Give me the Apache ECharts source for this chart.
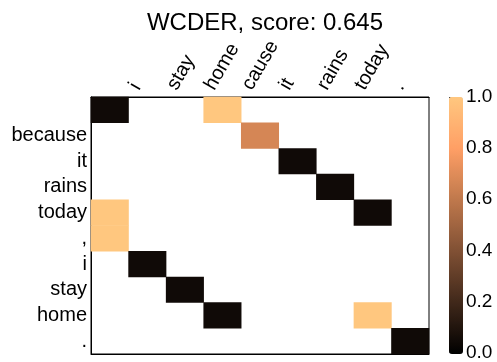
<!DOCTYPE html>
<html>
<head>
<meta charset="utf-8">
<script src="https://cdn.jsdelivr.net/npm/echarts@6/dist/echarts.min.js"></script>
<style>
  html, body { margin: 0; padding: 0; background: #fff; }
  #main { width: 497px; height: 362px; }
</style>
</head>
<body>
<div id="main"></div>
<script>
// tokens along the top (columns) and down the side (rows)
var xLabels = ['', 'i', 'stay', 'home', 'cause', 'it', 'rains', 'today', '.'];
var yLabels = ['', 'because', 'it', 'rains', 'today', ',', 'i', 'stay', 'home', '.'];
// [column, row, weight]
var cells = [
    [0, 0, 0.05], [3, 0, 1.0],
    [4, 1, 0.67],
    [5, 2, 0.05],
    [6, 3, 0.05],
    [0, 4, 1.0], [7, 4, 0.05],
    [0, 5, 1.0],
    [1, 6, 0.05],
    [2, 7, 0.05],
    [3, 8, 0.05], [7, 8, 1.0],
    [8, 9, 0.05]
];
var barTicks = [0, 0.2, 0.4, 0.6, 0.8, 1.0];
// copper colormap sampled every 0.2
var copper = ['#000000', '#40281a', '#805034', '#bf784c', '#ff9f65', '#ffc77f'];

var font = 'Liberation Sans, Arial, sans-serif';
var myChart = echarts.init(document.getElementById('main'));
var option = {
    animation: false,
    title: {
        text: 'WCDER, score: 0.645',
        left: 260,
        top: 6,
        textAlign: 'center',
        textStyle: { fontFamily: font, fontSize: 24, fontWeight: 'normal', color: '#000' }
    },
    grid: [
        { left: 91, right: 68, top: 97, bottom: 8, show: true, borderColor: '#000', borderWidth: 1, backgroundColor: '#fff' },
        { left: 449, width: 14, top: 97, bottom: 8 }
    ],
    xAxis: [{
        type: 'category',
        gridIndex: 0,
        position: 'top',
        data: xLabels,
        axisLine: { lineStyle: { color: '#000' } },
        axisTick: { alignWithLabel: true, length: 4, lineStyle: { color: '#333' } },
        axisLabel: {
            // bottom-aligned tall line box pushes the rotated text left of its tick
            rotate: -60, interval: 0, margin: 1, verticalAlign: 'bottom', lineHeight: 30,
            color: '#000', fontFamily: font, fontSize: 20
        },
        splitLine: { show: false }
    }, {
        type: 'category',
        gridIndex: 0,
        position: 'bottom',
        data: xLabels,
        axisLine: { lineStyle: { color: '#000' } },
        axisTick: { alignWithLabel: true, length: 4, lineStyle: { color: '#333' } },
        axisLabel: { show: false }
    }, {
        type: 'value',
        gridIndex: 1,
        show: false
    }],
    yAxis: [{
        type: 'category',
        gridIndex: 0,
        inverse: true,
        data: yLabels,
        axisLine: { lineStyle: { color: '#000' } },
        axisTick: { alignWithLabel: true, length: 4, lineStyle: { color: '#333' } },
        axisLabel: { interval: 0, margin: 4, color: '#000', fontFamily: font, fontSize: 20 }
    }, {
        type: 'value',
        gridIndex: 1,
        position: 'right',
        min: 0,
        max: 1,
        interval: 0.2,
        axisLine: { show: false },
        axisTick: { show: true, length: 4, lineStyle: { color: '#333' } },
        axisLabel: {
            margin: 3, color: '#000', fontFamily: font, fontSize: 19,
            formatter: function (v) { return v.toFixed(1); }
        },
        splitLine: { show: false }
    }],
    visualMap: {
        type: 'continuous',
        min: 0,
        max: 1,
        seriesIndex: 0,
        calculable: false,
        orient: 'vertical',
        left: 449,
        top: 97,
        padding: 0,
        itemWidth: 14,
        itemHeight: 257,
        text: null,
        showLabel: false,
        inRange: { color: copper }
    },
    series: [{
        type: 'heatmap',
        xAxisIndex: 0,
        yAxisIndex: 0,
        data: cells
    }]
};
myChart.setOption(option);
</script>
</body>
</html>
